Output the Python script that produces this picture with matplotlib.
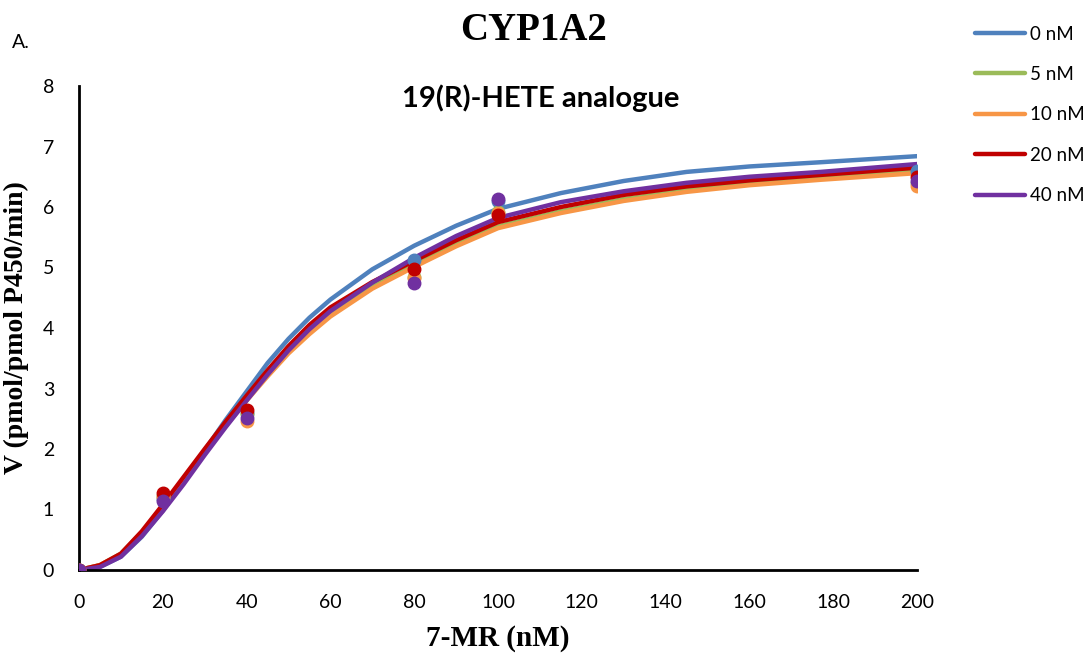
import numpy as np
import matplotlib
matplotlib.use("Agg")
import matplotlib.pyplot as plt

# concentrations of 7-MR (nM) at which points were measured
substrate = [0, 20, 40, 80, 100, 200]

# measured rates for each inhibitor level
measured = {
    "0 nM": [0, 1.17, 2.60, 5.12, 6.10, 6.60],
    "5 nM": [0, 1.22, 2.58, 4.85, 5.92, 6.39],
    "10 nM": [0, 1.20, 2.47, 4.83, 5.90, 6.35],
    "20 nM": [0, 1.27, 2.64, 4.97, 5.86, 6.50],
    "40 nM": [0, 1.14, 2.51, 4.75, 6.14, 6.43],
}

# fitted curves
fit_x = [0, 5, 10, 15, 20, 25, 30, 35, 40, 45, 50, 55, 60, 70, 80, 90, 100,
         115, 130, 145, 160, 177, 200]
fitted = {
    "0 nM": [0, 0.05, 0.22, 0.55, 0.98, 1.46, 1.98, 2.48, 2.95, 3.42, 3.82, 4.17,
             4.47, 4.97, 5.36, 5.69, 5.97, 6.23, 6.43, 6.58, 6.67, 6.74, 6.84],
    "5 nM": [0, 0.08, 0.27, 0.62, 1.05, 1.50, 1.96, 2.40, 2.82, 3.22, 3.60, 3.93,
             4.22, 4.68, 5.04, 5.38, 5.68, 5.93, 6.13, 6.28, 6.39, 6.48, 6.60],
    "10 nM": [0, 0.08, 0.26, 0.60, 1.03, 1.48, 1.94, 2.38, 2.80, 3.20, 3.58, 3.90,
              4.19, 4.65, 5.01, 5.35, 5.65, 5.90, 6.10, 6.25, 6.36, 6.45, 6.56],
    "20 nM": [0, 0.08, 0.27, 0.64, 1.08, 1.54, 2.00, 2.45, 2.88, 3.30, 3.70, 4.05,
              4.34, 4.76, 5.11, 5.45, 5.75, 6.00, 6.20, 6.34, 6.44, 6.53, 6.65],
    "40 nM": [0, 0.05, 0.22, 0.56, 0.97, 1.42, 1.90, 2.36, 2.80, 3.23, 3.63, 3.98,
              4.28, 4.75, 5.16, 5.52, 5.82, 6.08, 6.26, 6.40, 6.50, 6.58, 6.71],
}

colors = {
    "0 nM": "#4F81BD",
    "5 nM": "#9BBB59",
    "10 nM": "#F79646",
    "20 nM": "#C00000",
    "40 nM": "#7030A0",
}

sans = "Lato"
serif = "Liberation Serif"

fig = plt.figure(figsize=(10.92, 6.56), dpi=100)
ax = fig.add_axes([79 / 1092, 1 - 570 / 656, (917 - 79) / 1092, (570 - 86) / 656])

for name in fitted:
    ax.plot(fit_x, fitted[name], color=colors[name], lw=3.2, label=name,
            solid_capstyle="round", solid_joinstyle="round", zorder=2)
for name in measured:
    ax.plot(substrate, measured[name], "o", color=colors[name], ms=9,
            zorder=3)

ax.set_xlim(0, 200)
ax.set_ylim(0, 8)
ax.set_xticks(np.arange(0, 201, 20))
ax.set_yticks(np.arange(0, 9, 1))
ax.tick_params(length=0, labelsize=14)
ax.tick_params(axis="x", pad=17)
ax.tick_params(axis="y", pad=18)
for lbl in ax.get_xticklabels() + ax.get_yticklabels():
    lbl.set_family(sans)
for s in ["top", "right"]:
    ax.spines[s].set_visible(False)
for s in ["left", "bottom"]:
    ax.spines[s].set_linewidth(2)
    ax.spines[s].set_color("black")

ax.set_xlabel("7-MR (nM)", family=serif, fontweight="bold", fontsize=21, labelpad=10)
ax.set_ylabel("V (pmol/pmol P450/min)", family=serif, fontweight="bold", fontsize=20,
              labelpad=10)

fig.text(534 / 1092, 1 - 30 / 656, "CYP1A2", family=serif, fontweight="bold",
         fontsize=28, ha="center", va="center")
fig.text(12 / 1092, 1 - 42 / 656, "A.", family=sans, fontsize=14, ha="left",
         va="center")
fig.text(541 / 1092, 1 - 98 / 656, "19(R)-HETE analogue", family=sans,
         fontweight="bold", fontsize=21, ha="center", va="center")

fig.legend(loc="upper left", bbox_to_anchor=(967 / 1092, 1 - 18 / 656),
           frameon=False, handlelength=2.67, handletextpad=0.27, labelspacing=1.25,
           borderaxespad=0, prop={"family": sans, "size": 13.5})

fig.savefig("out.png", dpi=100)
